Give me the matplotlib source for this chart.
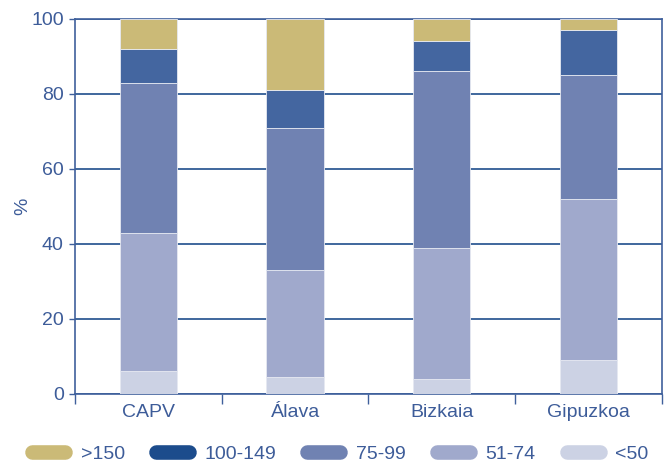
import matplotlib
matplotlib.use("Agg")
import matplotlib.pyplot as plt
from matplotlib.lines import Line2D
import numpy as np

plt.rcParams['font.family'] = ['Liberation Sans', 'DejaVu Sans']

regions = ["CAPV", "Álava", "Bizkaia", "Gipuzkoa"]
# stacked shares, bottom to top
lt50 = [6, 4.5, 4, 9]
r51_74 = [37, 28.5, 35, 43]
r75_99 = [40, 38, 47, 33]
r100_149 = [9, 10, 8, 12]
gt150 = [8, 19, 6, 3]

series = [
    ("<50", lt50, "#ccd2e4", "#ccd2e4"),
    ("51-74", r51_74, "#a0a9cc", "#a0a9cc"),
    ("75-99", r75_99, "#7082b2", "#7082b2"),
    ("100-149", r100_149, "#4466a0", "#1c4c8c"),
    (">150", gt150, "#cbba77", "#cbba77"),
]

axis_col = "#3f609c"
text_col = "#3d5c99"
fs = 14

fig = plt.figure(figsize=(6.67, 4.65), dpi=100)
ax = fig.add_axes([0.1124, 0.1527, 0.8801, 0.8065])

x = np.arange(len(regions))
bottom = np.zeros(len(regions))
for name, vals, col, _ in series:
    ax.bar(x, vals, width=0.39, bottom=bottom, color=col,
           edgecolor="#e6e9f2", linewidth=0.6, zorder=3)
    bottom += np.array(vals)

ax.set_xlim(-0.5, len(regions) - 0.5)
ax.set_ylim(0, 100)
ax.set_yticks([0, 20, 40, 60, 80, 100])
ax.yaxis.grid(True, color="#1f4e8c", linewidth=1.2, zorder=0)
ax.set_axisbelow(True)

# category boundaries carry the x ticks
ax.set_xticks(np.arange(-0.5, len(regions), 1.0))
ax.set_xticklabels([])
ax.set_xticks(x, minor=True)
ax.set_xticklabels(regions, minor=True)
ax.tick_params(axis='x', which='major', length=7, width=1, color=axis_col, direction='out')
ax.tick_params(axis='x', which='minor', length=0, pad=7, labelsize=fs, labelcolor=text_col)
ax.tick_params(axis='y', length=4, width=1, color=axis_col, labelsize=fs,
               labelcolor=text_col, pad=4)

for side in ['left', 'bottom', 'right', 'top']:
    ax.spines[side].set_color(axis_col)
    ax.spines[side].set_linewidth(1.2)

ax.set_ylabel("%", color=text_col, fontsize=fs)
ax.yaxis.set_label_coords(-0.075, 0.5)

handles = [Line2D([0], [0], color=leg, linewidth=10.5, solid_capstyle='round')
           for _, _, _, leg in reversed(series)]
labels = [name for name, _, _, _ in reversed(series)]
leg = fig.legend(handles, labels, loc='center', bbox_to_anchor=(0.51, 0.024),
                 ncol=5, frameon=False, fontsize=fs, handlelength=1.7,
                 columnspacing=1.6, handletextpad=0.8)
for t in leg.get_texts():
    t.set_color(text_col)

fig.savefig("out.png", dpi=100)
